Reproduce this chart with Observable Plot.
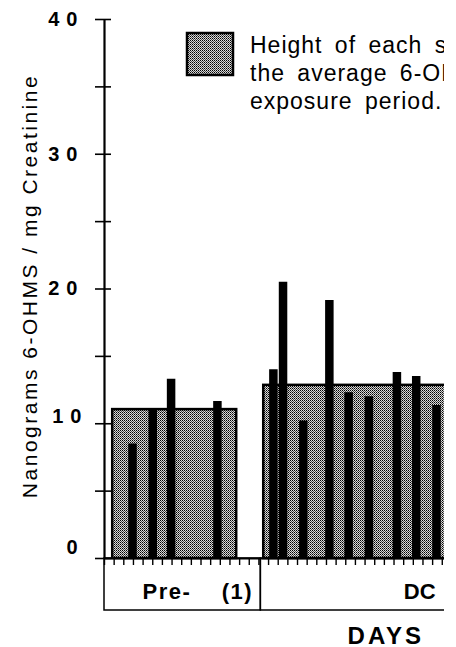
<!DOCTYPE html>
<html><head><meta charset="utf-8">
<script src="https://cdn.jsdelivr.net/npm/d3@7"></script>
<script src="https://cdn.jsdelivr.net/npm/@observablehq/plot@0.6"></script>
<style>
body{margin:0;background:#fff;}
#wrap{width:444px;height:647px;overflow:hidden;background:#fff;}
#wrap svg{max-width:none !important;width:456px;height:647px;display:block;}
</style></head><body><div id="wrap"></div>
<script>
// ---- data ----
const preDays = [2.9, 5.0, 6.9, 11.7];
const preValues = [8.5, 11.1, 13.3, 11.65];
const dcDays = [17.5, 18.5, 20.6, 23.3, 25.3, 27.4, 30.3, 32.3, 34.4];
const dcValues = [14.0, 20.5, 10.2, 19.15, 12.3, 12.0, 13.8, 13.5, 11.35];
const periodLabels = ["Pre-    (1)", "DC"];
const periodStart = [0, 16.2];
const periodEnd = [16.2, 50];
const averageStart = [0.85, 16.5];
const averageEnd = [13.7, 50];
const averageValues = [11.05, 12.85];
const yTicks = [0, 5, 10, 15, 20, 25, 30, 35, 40];
const yTickLabels = [0, 10, 20, 30, 40];
const dayTicks = d3.range(0, 50);
const legendLines = ["Height of each stippled area is", "the average 6-OHMS value for the", "exposure period."];
const yTitle = "Nanograms 6-OHMS / mg Creatinine";
const xTitle = "DAYS";

// ---- tables built from the arrays ----
const bars = [
  ...preDays.map((d, i) => ({day: d, value: preValues[i]})),
  ...dcDays.map((d, i) => ({day: d, value: dcValues[i]}))
];
const averages = averageValues.map((v, i) => ({x1: averageStart[i], x2: averageEnd[i], value: v}));
const periods = periodLabels.map((l, i) => ({label: l, x1: periodStart[i], x2: periodEnd[i]}));

const font = "Liberation Sans, Arial, Helvetica, sans-serif";

const defs = () => {
  const g = d3.create("svg:defs");
  const p = g.append("pattern").attr("id", "stipple").attr("width", 2).attr("height", 2)
    .attr("patternUnits", "userSpaceOnUse");
  p.append("rect").attr("width", 2).attr("height", 2).attr("fill", "#d9d9d9");
  p.append("rect").attr("width", 1).attr("height", 1).attr("fill", "#000");
  p.append("rect").attr("x", 1).attr("y", 1).attr("width", 1).attr("height", 1).attr("fill", "#4a4a4a");
  return g.node();
};

const chart = Plot.plot({
  width: 456,
  height: 647,
  marginLeft: 104,
  marginRight: 9.4,
  marginTop: 19,
  marginBottom: 89,
  style: {fontFamily: font, background: "white", color: "black", overflow: "hidden"},
  x: {domain: [0, 35.5], axis: null},
  y: {domain: [0, 40], axis: null},
  marks: [
    defs,
    // average (stippled) areas
    Plot.rect(averages, {x1: "x1", x2: "x2", y1: 0, y2: "value", fill: "url(#stipple)", stroke: "black", strokeWidth: 2.5}),
    // daily bars
    Plot.ruleX(bars, {x: "day", y1: 0, y2: "value", stroke: "black", strokeWidth: 8.5}),
    // period boxes below the axis
    Plot.rect(periods, {x1: "x1", x2: "x2", y1: 0, y2: 0, insetBottom: -52, fill: "none", stroke: "black", strokeWidth: 1.5}),
    Plot.text(periods.slice(0, 1), {x: "x1", y: 0, text: "label", textAnchor: "start", lineAnchor: "middle", dx: 38, dy: 33, fontSize: 22, fontWeight: "bold"}),
    Plot.text(periods.slice(1), {x: "x1", y: 0, text: "label", textAnchor: "start", lineAnchor: "middle", dx: 143, dy: 33, fontSize: 22, fontWeight: "bold"}),
    // day ticks
    Plot.axisX({ticks: dayTicks, tickSize: 7, fill: "none", stroke: "black", strokeWidth: 1.4}),
    // y ticks crossing the axis
    Plot.axisY({ticks: yTicks, tickSize: 16, dx: 7, fill: "none", stroke: "black", strokeWidth: 1.6}),
    // axis lines
    Plot.ruleY([0], {stroke: "black", strokeWidth: 2.2}),
    Plot.ruleX([0], {y1: 0, y2: 40, stroke: "black", strokeWidth: 2.2}),
    // y tick labels
    Plot.text(yTickLabels, {filter: d => d >= 20, y: d => d, frameAnchor: "left", text: d => String(d), textAnchor: "end", lineAnchor: "middle", dx: -20, fontSize: 20, fontWeight: "bold"}),
    Plot.text(yTickLabels, {filter: d => d === 10, y: d => d, frameAnchor: "left", text: d => String(d), textAnchor: "end", lineAnchor: "middle", dx: -16, dy: -7, fontSize: 20, fontWeight: "bold"}),
    Plot.text(yTickLabels, {filter: d => d === 0, y: d => d, frameAnchor: "left", text: d => String(d), textAnchor: "end", lineAnchor: "middle", dx: -20, dy: -11, fontSize: 20, fontWeight: "bold"}),
    // y title
    Plot.text([yTitle], {frameAnchor: "left", text: d => d, rotate: -90, textAnchor: "middle", lineAnchor: "middle", dx: -74, dy: -3, fontSize: 21}),
    // x title
    Plot.text([xTitle], {frameAnchor: "bottom", text: d => d, textAnchor: "middle", lineAnchor: "middle", dx: 110, dy: 78, fontSize: 24, fontWeight: "bold"})
  ]
});

// letter spacing (styling of the text marks), matched by their content
const svg = d3.select(chart);
const tickLabelStrings = yTickLabels.map(String);
svg.selectAll("text").each(function() {
  const t = this.textContent;
  const s = d3.select(this);
  if (tickLabelStrings.includes(t)) s.style("letter-spacing", "7px");
  else if (t === yTitle) s.style("letter-spacing", "2.5px");
  else if (t === xTitle) s.style("letter-spacing", "3px");
  else if (t === periodLabels[0]) s.style("letter-spacing", "1.5px");
});

// legend (inside the plot area, top)
const lg = svg.append("g").attr("font-family", font).attr("text-anchor", "start");
lg.append("rect").attr("x", 187).attr("y", 33).attr("width", 46).attr("height", 42)
  .attr("fill", "url(#stipple)").attr("stroke", "black").attr("stroke-width", 2.5);
lg.selectAll("text").data(legendLines).join("text")
  .attr("x", 250).attr("y", (d, i) => 53 + i * 28)
  .attr("font-size", 23).attr("fill", "black")
  .attr("text-anchor", "start")
  .style("letter-spacing", "1px")
  .style("word-spacing", "5px")
  .text(d => d);

document.getElementById("wrap").append(chart);
</script>
</body></html>
